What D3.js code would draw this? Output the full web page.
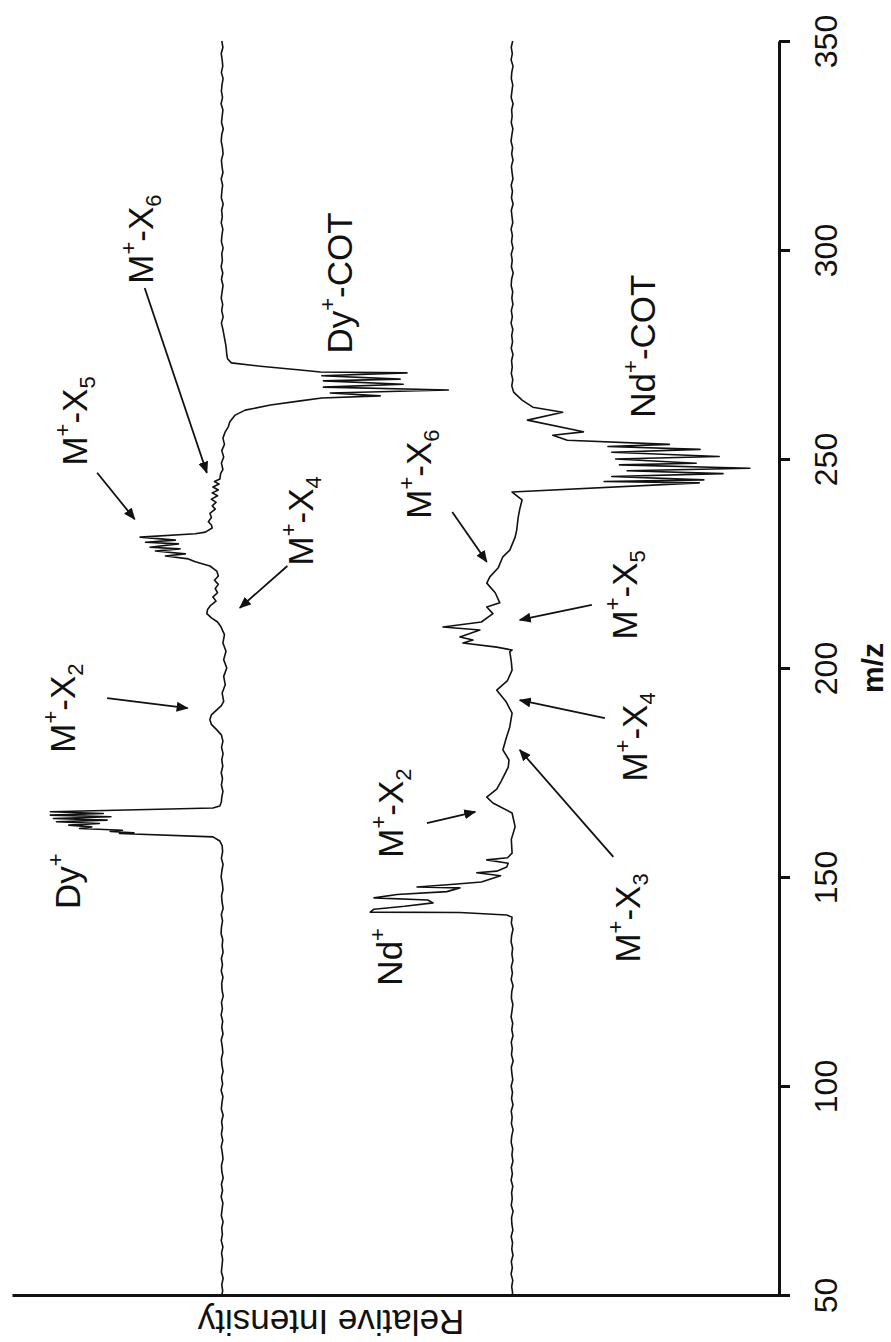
<!DOCTYPE html>
<html>
<head>
<meta charset="utf-8">
<script src="https://cdn.jsdelivr.net/npm/d3@7"></script>
<style>
  body { margin: 0; background: #fff; }
  svg { display: block; }
  text { font-family: Arial, "Liberation Sans", sans-serif; fill: #111; }
</style>
</head>
<body>
<svg id="chart" width="891" height="1342"></svg>
<script>
// m/z axis ticks
const mzTicks = [50, 100, 150, 200, 250, 300, 350];

// Trace offsets on the relative-intensity axis (percent of full scale)
const dyOffset = 72.6;
const ndOffset = 34.8;

// Dy trace: [m/z, intensity relative to its own baseline]
const dyTrace = [
  [350,0.05],[348.5,-0.1],[347,0.12],[345.5,0],[344,-0.08],[342.5,0.1],[341,-0.12],[339.5,0.02],
  [338,0.1],[336.5,-0.05],[335,0.14],[333.5,-0.1],[332,0],[330.5,0.08],[329,-0.14],[327.5,0.06],
  [326,0.12],[324.5,-0.04],[323,-0.12],[321.5,0.1],[320,0.02],[318.5,-0.1],[317,0.13],[315.5,-0.06],
  [314,0.04],[312.5,0.11],[311,-0.13],[309.5,0.07],[308,-0.02],[306.5,0.12],[305,-0.09],[303.5,0.03],
  [302,0.1],[300.5,-0.12],[299,0.05],[297.5,-0.03],[296,0.13],[294.5,-0.08],[293,0.09],[291.5,-0.11],
  [290,0.01],[288.5,0.12],[287,-0.07],[285.5,0.06],[284,-0.13],[282.5,0.1],[281,-0.1],
  [279,-0.3],[277,-0.5],[275,-0.6],[274.0,-0.7],
  [273.0,-1.2],[272.2,-5.0],[271.3,-10.2],[270.8,-12.8],[270.6,-24.1],[269.9,-13.0],
  [269.1,-23.2],[268.7,-13.2],[267.9,-23.6],[267.2,-13.2],[266.5,-29.5],[265.8,-14.1],
  [265.1,-20.6],[264.6,-13.0],[263.9,-10.2],[262.9,-6.3],[261.7,-3.0],[260.5,-1.7],
  [258.9,-1.0],[257.7,-0.8],[256.5,-0.4],[255,-0.1],[253.5,-0.3],[252,0.05],[250.5,-0.2],
  [249,0.1],[247.5,-0.1],[246.5,0.2],
  [245.2,0.3],[244.6,1.0],[244.0,0.4],[243.3,1.2],[242.6,0.5],[241.9,1.3],[241.2,0.6],
  [240.4,1.4],[239.6,0.8],[238.8,1.3],[238.0,0.9],[237.0,1.6],[236.0,1.4],[235.0,1.8],
  [234.2,1.4],[233.5,1.3],[232.5,2.2],[232.1,3.5],[231.3,10.7],[230.6,6.1],[230.1,10.0],
  [229.7,5.7],[228.9,9.4],[228.5,5.5],[228.0,8.7],[227.3,4.8],[226.8,7.4],[226.1,4.4],
  [225.4,3.5],[224.4,1.6],[223.2,0.7],[222.0,0.5],[221.0,1.0],[220.0,0.5],[219.0,0.9],
  [218.0,0.6],[217.0,1.2],[216.0,0.8],[215.0,1.5],[214.0,1.9],[213.0,2.0],[212.0,1.4],
  [211.0,0.6],[210.0,0.2],[208,-0.3],[206,-0.1],[204,-0.5],[202,-0.2],[200,-0.6],
  [198,-0.2],[196,-0.4],[194,0],[192,-0.2],[191,0.1],[190,0.7],[188.8,1.4],[187.6,1.6],
  [186.5,1.4],[185.2,0.7],[184,0.1],[182.5,-0.1],[181,0.08],[179.5,-0.12],[178,0.05],
  [176.5,-0.08],[175,0.12],[173.5,-0.04],[172,0.1],[170.5,-0.1],[169,0.06],[168,0.1],
  [167.0,0.3],[166.5,1.2],[165.6,22.4],
  [165.2,15.5],[164.8,22.4],[164.4,14.5],[164.0,22.0],[163.6,15.0],[163.2,21.6],
  [162.8,16.0],[162.4,20.0],[162.0,17.0],[161.6,18.6],[161.2,13.0],[160.9,14.6],
  [160.6,11.5],[160.4,13.4],[159.6,1.2],[158.6,0.3],
  [157.5,0],[156,-0.06],[154.5,0.1],[153,-0.12],[151.5,0.04],[150,0.13],[148.5,-0.02],
  [147,-0.11],[145.5,0.08],[144,0.01],[142.5,-0.13],[141,0.11],[139.5,-0.05],[138,0.09],
  [136.5,0.14],[135,-0.08],[133.5,0],[132,-0.12],[130.5,0.1],[129,-0.04],[127.5,0.12],
  [126,-0.1],[124.5,0.06],[123,0.02],[121.5,-0.14],[120,0.09],[118.5,-0.03],[117,0.13],
  [115.5,-0.07],[114,0.05],[112.5,-0.11],[111,0.12],[109.5,-0.01],[108,-0.09],[106.5,0.1],
  [105,0.03],[103.5,-0.12],[102,0.08],[100.5,-0.06],[99,0.14],[97.5,-0.1],[96,0.02],
  [94.5,0.11],[93,-0.13],[91.5,0.07],[90,-0.04],[88.5,0.1],[87,-0.08],[85.5,0.12],
  [84,-0.02],[82.5,-0.11],[81,0.09],[79.5,0.04],[78,-0.13],[76.5,0.1],[75,-0.05],
  [73.5,0.13],[72,-0.09],[70.5,0.01],[69,0.11],[67.5,-0.12],[66,0.06],[64.5,-0.03],
  [63,0.12],[61.5,-0.1],[60,0.08],[58.5,-0.06],[57,0.02],[55.5,0.1],[54,-0.13],
  [52.5,0.05],[51,-0.07],[50,0.05]
];

// Nd trace: [m/z, intensity relative to its own baseline]
const ndTrace = [
  [350,-0.08],[348.5,0.11],[347,-0.03],[345.5,0.13],[344,-0.12],[342.5,0.04],[341,0.1],[339.5,-0.09],
  [338,0.02],[336.5,0.12],[335,-0.13],[333.5,0.06],[332,-0.01],[330.5,0.11],[329,-0.1],[327.5,0.03],
  [326,0.14],[324.5,-0.07],[323,0.05],[321.5,-0.12],[320,0.09],[318.5,0],[317,-0.11],[315.5,0.12],
  [314,-0.05],[312.5,0.08],[311,-0.13],[309.5,0.1],[308,0.01],[306.5,-0.09],[305,0.13],[303.5,-0.04],
  [302,0.07],[300.5,-0.12],[299,0.11],[297.5,-0.02],[296,0.09],[294.5,-0.14],[293,0.06],[291.5,0.12],
  [290,-0.08],[288.5,0.03],[287,-0.11],[285.5,0.1],[284,-0.03],[282.5,0.13],[281,-0.1],[279.5,0.05],
  [278,-0.06],[276.5,0.11],[275,-0.12],[273.5,0.07],[272,-0.02],[270.5,0.1],[269,-0.09],[267.5,0.04],
  [266,-0.2],[264.1,-1.3],[262.4,-2.7],[261.2,-6.6],[259.3,-2.0],
  [256.5,-9.3],[255.7,-5.3],[254.5,-7.2],[253.5,-20.5],[253.0,-12.5],[252.3,-24.5],
  [251.6,-13.0],[250.6,-27.0],[250.0,-13.5],[249.0,-24.0],[248.6,-14.0],[247.8,-31.0],
  [247.2,-15.0],[246.5,-27.5],[245.8,-13.0],[245.0,-25.0],[244.6,-12.0],[244.3,-24.4],
  [242.1,0],[240.2,-1.3],[238,-1.0],[236.1,-0.8],[233,-0.6],[231.3,-0.4],[228.2,0.3],
  [226.6,1.2],[224,1.8],[221.8,2.9],[220.3,3.3],[218,2.2],[215.6,1.6],[214.6,3.3],
  [213,2.5],[211,4.0],[209.8,9.0],[209.1,4.2],[207.4,6.8],[206.7,5.1],[206.0,6.4],
  [205,2.0],[204.3,0],[203.9,0.3],[201.5,0.1],[199.5,0],[197,0.6],[194.7,2.0],
  [192,0.8],[189.2,0],[185.9,0.3],[183,0.8],[180.4,1.2],[178,0.4],[176.3,0.5],
  [173,1.4],[171,2.0],[169.1,3.3],[167.7,2.5],[165.3,0],[162.0,-0.4],[159,0.1],
  [155.7,0],[154.6,0.6],[154.1,3.3],[153.3,0.5],[152.4,0.7],[151.4,2.0],[151.0,4.6],
  [150.3,1.5],[150.0,2.0],[148.8,4.0],[148.2,8.0],[147.6,12.4],[147.4,6.8],[146.5,8.5],
  [145.8,15.0],[145.0,18.0],[144.5,11.0],[143.8,10.3],[143.0,14.0],[142.3,18.0],
  [141.6,18.5],[141.5,6.8],[140.9,0.7],[140.4,0],
  [139,0.1],[137.5,-0.12],[136,0.06],[134.5,0.13],[133,-0.07],[131.5,0.02],[130,-0.11],
  [128.5,0.1],[127,-0.04],[125.5,0.12],[124,-0.13],[122.5,0.05],[121,0.09],[119.5,-0.1],
  [118,0.01],[116.5,0.13],[115,-0.08],[113.5,0.04],[112,-0.12],[110.5,0.11],[109,-0.02],
  [107.5,0.08],[106,-0.14],[104.5,0.1],[103,0.03],[101.5,-0.09],[100,0.12],[98.5,-0.05],
  [97,0.07],[95.5,-0.12],[94,0.11],[92.5,-0.01],[91,0.09],[89.5,-0.13],[88,0.05],
  [86.5,0.12],[85,-0.08],[83.5,0.02],[82,-0.11],[80.5,0.1],[79,-0.04],[77.5,0.13],
  [76,-0.09],[74.5,0.06],[73,-0.02],[71.5,0.11],[70,-0.13],[68.5,0.07],[67,0.03],
  [65.5,-0.1],[64,0.12],[62.5,-0.06],[61,0.04],[59.5,-0.12],[58,0.1],[56.5,-0.03],
  [55,0.13],[53.5,-0.09],[52,0.05],[50.5,-0.07],[50,0]
];

// Peak annotations: text parts, anchor (m/z, relative intensity)
const annotations = [
  { parts: [["Dy"], ["+", "sup"], ["-COT"]], mz: 292.1, inten: 55.7 },
  { parts: [["Nd"], ["+", "sup"], ["-COT"]], mz: 277.0, inten: 16.2 },
  { parts: [["M"], ["+", "sup"], ["-X"], ["6", "sub"]], mz: 302.6, inten: 81.6 },
  { parts: [["M"], ["+", "sup"], ["-X"], ["5", "sub"]], mz: 259.1, inten: 90.2 },
  { parts: [["M"], ["+", "sup"], ["-X"], ["4", "sub"]], mz: 235.2, inten: 60.8 },
  { parts: [["M"], ["+", "sup"], ["-X"], ["2", "sub"]], mz: 190.4, inten: 91.8 },
  { parts: [["Dy"], ["+", "sup"]], mz: 149.0, inten: 91.1 },
  { parts: [["M"], ["+", "sup"], ["-X"], ["6", "sub"]], mz: 246.4, inten: 45.4 },
  { parts: [["M"], ["+", "sup"], ["-X"], ["5", "sub"]], mz: 217.5, inten: 18.5 },
  { parts: [["M"], ["+", "sup"], ["-X"], ["4", "sub"]], mz: 183.5, inten: 17.2 },
  { parts: [["M"], ["+", "sup"], ["-X"], ["3", "sub"]], mz: 140.2, inten: 18.1 },
  { parts: [["M"], ["+", "sup"], ["-X"], ["2", "sub"]], mz: 165.3, inten: 49.0 },
  { parts: [["Nd"], ["+", "sup"]], mz: 130.9, inten: 49.2 }
];

// Arrows: from (m/z, intensity) to (m/z, intensity)
const arrows = [
  [[290.9, 82.7], [246.7, 74.6]],
  [[246.7, 88.9], [235.6, 84.0]],
  [[224.4, 64.1], [214.4, 70.3]],
  [[192.8, 87.6], [190.4, 77.1]],
  [[237.3, 42.6], [225.4, 38.1]],
  [[215.1, 24.4], [211.5, 33.8]],
  [[188.0, 22.7], [192.3, 33.8]],
  [[154.8, 21.6], [180.4, 33.8]],
  [[162.9, 45.9], [165.6, 39.6]]
];

const svg = d3.select("#chart");

// m/z runs bottom-to-top; relative intensity grows to the left
const y = d3.scaleLinear().domain([50, 350]).range([1295, 41]);
const x = d3.scaleLinear().domain([0, 100]).range([779, 12]);

// Arrowhead marker
svg.append("defs").append("marker")
  .attr("id", "head")
  .attr("viewBox", "0 0 12 10")
  .attr("refX", 11).attr("refY", 5)
  .attr("markerWidth", 12).attr("markerHeight", 10)
  .attr("markerUnits", "userSpaceOnUse")
  .attr("orient", "auto")
  .append("path").attr("d", "M0,0 L12,5 L0,10 Z").attr("fill", "#111");

// Intensity axis (drawn as a bare line along the bottom)
const intAxis = svg.append("g").attr("transform", `translate(0,${y(50)})`)
  .call(d3.axisBottom(x).tickValues([]).tickSizeOuter(0));
intAxis.select(".domain").attr("stroke", "#111").attr("stroke-width", 3);

svg.append("text")
  .attr("transform", `translate(${x(58.4)},${y(50) + 15}) rotate(180)`)
  .attr("text-anchor", "middle")
  .style("font-size", "35px")
  .text("Relative Intensity");

// m/z axis on the right
const mzAxis = svg.append("g").attr("transform", `translate(${x(0)},0)`)
  .call(d3.axisRight(y).tickValues(mzTicks).tickSize(11).tickSizeOuter(0));
mzAxis.select(".domain").attr("stroke", "#111").attr("stroke-width", 3);
mzAxis.selectAll(".tick line").attr("stroke", "#111").attr("stroke-width", 3);
mzAxis.selectAll(".tick text")
  .attr("x", 0).attr("y", 0).attr("dy", null)
  .attr("transform", "translate(58,0) rotate(-90)")
  .attr("text-anchor", "middle")
  .attr("fill", "#111")
  .style("font-family", "Arial, 'Liberation Sans', sans-serif")
  .style("font-size", "32px");

svg.append("text")
  .attr("transform", `translate(883,${y(200)}) rotate(-90)`)
  .attr("text-anchor", "middle")
  .style("font-size", "30px")
  .style("font-weight", "bold")
  .text("m/z");

// Spectra
const line = offset => d3.line()
  .x(d => x(offset + d[1]))
  .y(d => y(d[0]));

svg.append("path").datum(dyTrace)
  .attr("d", line(dyOffset))
  .attr("fill", "none").attr("stroke", "#111").attr("stroke-width", 1.6)
  .attr("stroke-linejoin", "round");

svg.append("path").datum(ndTrace)
  .attr("d", line(ndOffset))
  .attr("fill", "none").attr("stroke", "#111").attr("stroke-width", 1.6)
  .attr("stroke-linejoin", "round");

// Annotation labels, reading bottom-to-top
annotations.forEach(a => {
  const t = svg.append("text")
    .attr("transform", `translate(${x(a.inten)},${y(a.mz)}) rotate(-90)`)
    .attr("text-anchor", "middle")
    .style("font-size", "35px");
  let shift = 0;
  a.parts.forEach(([s, kind]) => {
    const target = kind === "sup" ? -17 : kind === "sub" ? 8 : 0;
    t.append("tspan")
      .attr("dy", target - shift)
      .style("font-size", kind ? "22px" : "35px")
      .text(s);
    shift = target;
  });
});

// Arrows
svg.append("g").selectAll("line").data(arrows).join("line")
  .attr("x1", d => x(d[0][1])).attr("y1", d => y(d[0][0]))
  .attr("x2", d => x(d[1][1])).attr("y2", d => y(d[1][0]))
  .attr("stroke", "#111").attr("stroke-width", 1.8)
  .attr("marker-end", "url(#head)");
</script>
</body>
</html>
